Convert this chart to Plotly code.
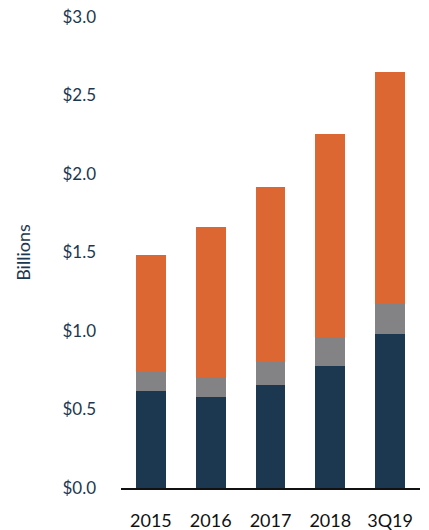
import plotly.graph_objects as go

categories = ["2015", "2016", "2017", "2018", "3Q19"]
series_dark = [0.62, 0.58, 0.656, 0.777, 0.981]
series_gray = [0.121, 0.127, 0.148, 0.185, 0.193]
series_orange = [0.743, 0.955, 1.113, 1.293, 1.476]
tick_vals = [0, 0.5, 1.0, 1.5, 2.0, 2.5, 3.0]
tick_text = ["$0.0", "$0.5", "$1.0", "$1.5", "$2.0", "$2.5", "$3.0"]

FONT = "Lato"
NAVY = "#1c3850"

fig = go.Figure()
fig.add_bar(x=categories, y=series_dark, marker_color="#1c3850", marker_line_width=0)
fig.add_bar(x=categories, y=series_gray, marker_color="#838386", marker_line_width=0)
fig.add_bar(x=categories, y=series_orange, marker_color="#dd6733", marker_line_width=0)

fig.update_layout(
    barmode="stack",
    bargap=0.5,
    width=429, height=530,
    margin=dict(l=121, r=9, t=17, b=42, autoexpand=False),
    paper_bgcolor="white", plot_bgcolor="white",
    showlegend=False,
    font=dict(family=FONT, size=16, color=NAVY),
)
fig.update_xaxes(
    showline=True, linecolor="#111111", linewidth=2,
    showgrid=False, ticks="", tickfont=dict(family=FONT, size=18, color="#111111"),
    ticklabelstandoff=15, ticklabeloverflow="allow",
)
fig.update_yaxes(
    range=[0, 3], tickvals=tick_vals, ticktext=tick_text,
    showgrid=False, zeroline=False, showline=False, ticks="",
    tickfont=dict(family=FONT, size=17, color=NAVY),
    ticklabelstandoff=24, ticklabeloverflow="allow",
)
fig.add_annotation(
    text="Billions", xref="paper", yref="paper", x=-0.33, y=0.5,
    xanchor="center", yanchor="middle", textangle=-90, showarrow=False,
    font=dict(family=FONT, size=18, color=NAVY),
)
fig.write_html(
    "out.html",
    config={"displayModeBar": False},
    post_script="document.body.style.margin='0';document.body.style.overflow='hidden';",
)
